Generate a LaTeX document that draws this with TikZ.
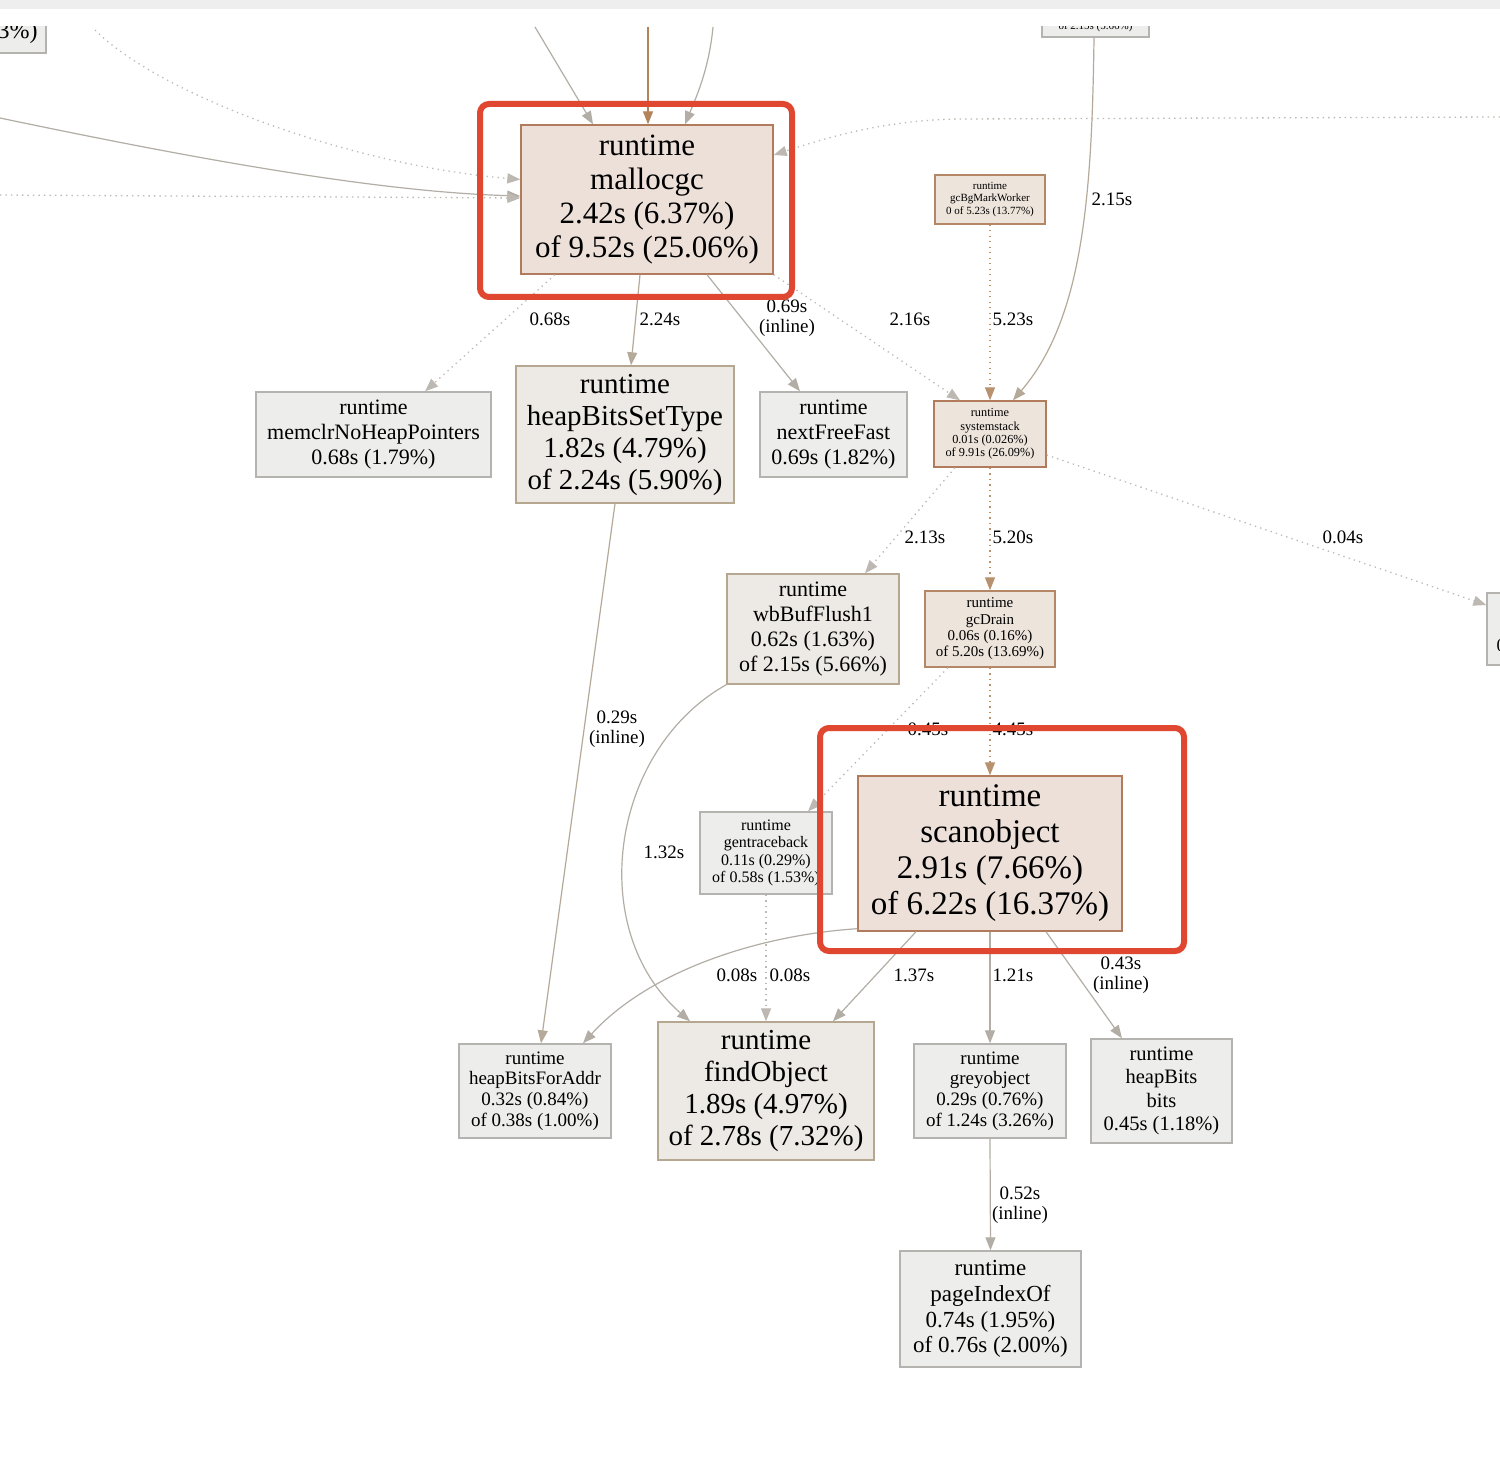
\documentclass[tikz,border=0pt]{standalone}
\usepackage{fontspec}
\setmainfont{Liberation Serif}
\usetikzlibrary{arrows.meta}
\definecolor{cEdge}{HTML}{B2AEA6}
\definecolor{cEdgeW}{HTML}{B5A999}
\definecolor{cBrown}{HTML}{B3845C}
\definecolor{cDot}{HTML}{BDB9B2}
\definecolor{cDotB}{HTML}{B8926E}
\definecolor{cGrayF}{HTML}{EDEDEC}
\definecolor{cGrayB}{HTML}{B4B3B0}
\definecolor{cWarmF}{HTML}{EDEAE5}
\definecolor{cWarmB}{HTML}{B5A790}
\definecolor{cPinkF}{HTML}{EDE0D9}
\definecolor{cPinkB}{HTML}{B27B5C}
\definecolor{cTanF}{HTML}{EDE4DC}
\definecolor{cTanB}{HTML}{B48866}
\definecolor{cRed}{HTML}{DF4731}
\definecolor{cBand}{HTML}{EEEEEE}
\newcommand{\myfs}[2]{\fontsize{#1}{#2}\selectfont}
\begin{document}
\begin{tikzpicture}[x=1pt,y=-1pt,
  boxbase/.style={rectangle, draw, line width=1.4pt, inner sep=0pt, align=center},
  gbox/.style={boxbase, draw=cGrayB, fill=cGrayF},
  wbox/.style={boxbase, draw=cWarmB, fill=cWarmF},
  pbox/.style={boxbase, draw=cPinkB, fill=cPinkF},
  tbox/.style={boxbase, draw=cTanB, fill=cTanF},
  tip/.style={-{Triangle[length=13pt,width=10pt]}},
  edgeg/.style={draw=cEdge, line width=1.2pt, tip},
  edgew/.style={draw=cEdgeW, line width=1.2pt, tip},
  edgeb/.style={draw=cBrown, line width=1.3pt, tip},
  dotg/.style={draw=cDot, line width=1.3pt, dash pattern=on 1.3pt off 4.2pt, tip},
  dotb/.style={draw=cDotB, line width=1.3pt, dash pattern=on 1.3pt off 4.2pt, tip},
  lbl/.style={inner sep=0pt, align=center, font={\myfs{19}{20.5}}},
  hilite/.style={draw=cRed, line width=6pt, rounded corners=9pt}
]
\useasboundingbox (0,0) rectangle (1500,1471);
\fill[white] (0,0) rectangle (1500,1471);
\fill[cBand] (0,0) rectangle (1500,9);
\begin{scope}
\clip (0,27) rectangle (1500,1471);

% ---- partial nodes at the edges
\node[gbox, minimum width=146pt, minimum height=50pt] (TL) at (-27,28) {};
\node[inner sep=0pt, font={\myfs{24}{26}}] (TLt) at (-30,33) {0.05s (0.13\%)};
\node[gbox, minimum width=107pt, minimum height=40pt] (TR) at (1095.5,17) {};
\node[inner sep=0pt, font={\myfs{11}{12.5}}] (TRt) at (1095.5,27) {of 2.15s (5.66\%)};
\node[gbox, minimum width=120pt, minimum height=72pt] (RN) at (1547,629) {};
\node[inner sep=0pt, font={\myfs{18}{20}}] (RNt) at (1547,647) {0.04s (0.11\%)};

% ---- main nodes
\node[pbox, minimum width=252pt, minimum height=149pt, font={\myfs{31}{34}}] (malloc) at (647,199.5)
  {runtime\\mallocgc\\2.42s (6.37\%)\\of 9.52s (25.06\%)};
\node[tbox, minimum width=110pt, minimum height=49pt, font={\myfs{11}{12.5}}] (gcbg) at (990,199.5)
  {runtime\\gcBgMarkWorker\\0 of 5.23s (13.77\%)};
\node[gbox, minimum width=235pt, minimum height=85pt, font={\myfs{22}{25}}] (memclr) at (373.5,434.5)
  {runtime\\memclrNoHeapPointers\\0.68s (1.79\%)};
\node[wbox, minimum width=218pt, minimum height=137pt, font={\myfs{29}{32}}] (hbst) at (625,434.5)
  {runtime\\heapBitsSetType\\1.82s (4.79\%)\\of 2.24s (5.90\%)};
\node[gbox, minimum width=147pt, minimum height=85pt, font={\myfs{22}{25}}] (nff) at (833.5,434.5)
  {runtime\\nextFreeFast\\0.69s (1.82\%)};
\node[tbox, draw=cPinkB, minimum width=112pt, minimum height=66pt, font={\myfs{12.3}{13.4}}] (sys) at (990,434)
  {runtime\\systemstack\\0.01s (0.026\%)\\of 9.91s (26.09\%)};
\node[wbox, minimum width=172pt, minimum height=110pt, font={\myfs{22}{25}}] (wbb) at (813,629)
  {runtime\\wbBufFlush1\\0.62s (1.63\%)\\of 2.15s (5.66\%)};
\node[tbox, minimum width=130pt, minimum height=76pt, font={\myfs{15}{16.4}}] (gcd) at (990,629)
  {runtime\\gcDrain\\0.06s (0.16\%)\\of 5.20s (13.69\%)};
\node[pbox, minimum width=264pt, minimum height=155pt, font={\myfs{33}{36}}] (scan) at (990,853.5)
  {runtime\\scanobject\\2.91s (7.66\%)\\of 6.22s (16.37\%)};
\node[gbox, minimum width=132pt, minimum height=82pt, font={\myfs{16}{17.6}}] (gtb) at (766,853)
  {runtime\\gentraceback\\0.11s (0.29\%)\\of 0.58s (1.53\%)};
\node[gbox, minimum width=152pt, minimum height=94pt, font={\myfs{19}{20.7}}] (hbfa) at (535,1091)
  {runtime\\heapBitsForAddr\\0.32s (0.84\%)\\of 0.38s (1.00\%)};
\node[wbox, minimum width=216pt, minimum height=138pt, font={\myfs{29}{32}}] (fo) at (766,1091)
  {runtime\\findObject\\1.89s (4.97\%)\\of 2.78s (7.32\%)};
\node[gbox, minimum width=152pt, minimum height=94pt, font={\myfs{19}{20.7}}] (grey) at (990,1091)
  {runtime\\greyobject\\0.29s (0.76\%)\\of 1.24s (3.26\%)};
\node[gbox, minimum width=141pt, minimum height=104pt, font={\myfs{20.5}{23.5}}] (hb) at (1161.5,1091)
  {runtime\\heapBits\\bits\\0.45s (1.18\%)};
\node[gbox, minimum width=181pt, minimum height=116pt, font={\myfs{23}{25.7}}] (pio) at (990.5,1309)
  {runtime\\pageIndexOf\\0.74s (1.95\%)\\of 0.76s (2.00\%)};

% ---- free ends
\coordinate (inA) at (535,27);
\coordinate (inB) at (648,27);
\coordinate (inC) at (713,27);
\coordinate (inD) at (0,118);
\coordinate (inE) at (95,30);
\coordinate (inF) at (0,195);
\coordinate (inG) at (1500,117);

% ---- edges into mallocgc
\draw[edgeg] (inA) -- ([xshift=-54pt]malloc.north);
\draw[edgeb] (inB) -- ([xshift=1pt]malloc.north);
\draw[edgeg] (inC) .. controls (709,70) and (695,100) .. ([xshift=38pt]malloc.north);
\draw[edgeg] (inD) .. controls (200,160) and (380,192) .. ([yshift=3.5pt]malloc.west);
\draw[dotg] (inE) .. controls (160,95) and (350,165) .. ([yshift=20pt]malloc.west);
\draw[dotg] (inF) -- ([yshift=1.5pt]malloc.west);
\draw[dotg] (inG) -- (960,119) .. controls (880,120) and (820,140) .. ([yshift=44.5pt]malloc.east);

% ---- edges from mallocgc
\draw[dotg] ([xshift=-92pt]malloc.south) -- ([xshift=51.5pt]memclr.north);
\draw[edgew] ([xshift=-7pt]malloc.south) -- ([xshift=6pt]hbst.north);
\draw[edgeg] ([xshift=60pt]malloc.south) -- ([xshift=-33.5pt]nff.north);
\draw[dotg] (malloc.south east) -- ([xshift=-30pt]sys.north);

% ---- into systemstack
\draw[dotb] (gcbg.south) -- (sys.north);
\draw[edgew] (TR.south -| 1094,0) .. controls (1092,200) and (1082,320) .. ([xshift=23pt]sys.north);

% ---- from systemstack
\draw[dotg] ([xshift=-35pt]sys.south) -- ([xshift=52pt]wbb.north);
\draw[dotb] (sys.south) -- (gcd.north);
\draw[dotg] ([yshift=-21pt]sys.east) -- ([yshift=24pt]RN.west);

% ---- from gcDrain
\draw[dotg] ([xshift=-42pt]gcd.south) -- ([xshift=42pt]gtb.north);
\draw[dotb] (gcd.south) -- (scan.north);

% ---- others
\draw[edgeg] (wbb.south west) .. controls (610,750) and (585,930) .. ([xshift=-76pt]fo.north);
\draw[edgew] ([xshift=-10pt]hbst.south) -- ([xshift=6pt]hbfa.north);
\draw[edgeg] ([yshift=3pt]scan.south west) .. controls (760,935) and (650,970) .. ([xshift=48pt]hbfa.north);
\draw[dotg] (gtb.south) -- (fo.north);
\draw[edgeg] ([xshift=-74pt]scan.south) -- ([xshift=67pt]fo.north);
\draw[edgeg] (scan.south) -- (grey.north);
\draw[edgeg] ([xshift=56pt]scan.south) -- ([xshift=-39.5pt]hb.north);
\draw[edgeg] (grey.south) -- (pio.north);

% ---- edge labels
\node[lbl] (l215) at (1112,199) {2.15s};
\node[lbl] (l068) at (550,319) {0.68s};
\node[lbl] (l224) at (660,319) {2.24s};
\node[lbl] (l069) at (787,318) {0.69s\\(inline)};
\node[lbl] (l216) at (910,319) {2.16s};
\node[lbl] (l523) at (1013,319) {5.23s};
\node[lbl] (l213) at (925,537) {2.13s};
\node[lbl] (l520) at (1013,537) {5.20s};
\node[lbl] (l004) at (1343,537) {0.04s};
\node[lbl] (l029) at (617,729) {0.29s\\(inline)};
\node[lbl] (l045) at (928,729) {0.45s};
\node[lbl] (l445) at (1013,729) {4.45s};
\node[lbl] (l132) at (664,852) {1.32s};
\node[lbl] (l008a) at (737,975) {0.08s};
\node[lbl] (l008b) at (790,975) {0.08s};
\node[lbl] (l137) at (914,975) {1.37s};
\node[lbl] (l121) at (1013,975) {1.21s};
\node[lbl] (l043) at (1121,975) {0.43s\\(inline)};
\node[lbl] (l052) at (1020,1205) {0.52s\\(inline)};

% ---- highlight boxes
\draw[hilite] (480,104) rectangle (792,297);
\draw[hilite] (820,728) rectangle (1184,951);
\end{scope}
\end{tikzpicture}
\end{document}
